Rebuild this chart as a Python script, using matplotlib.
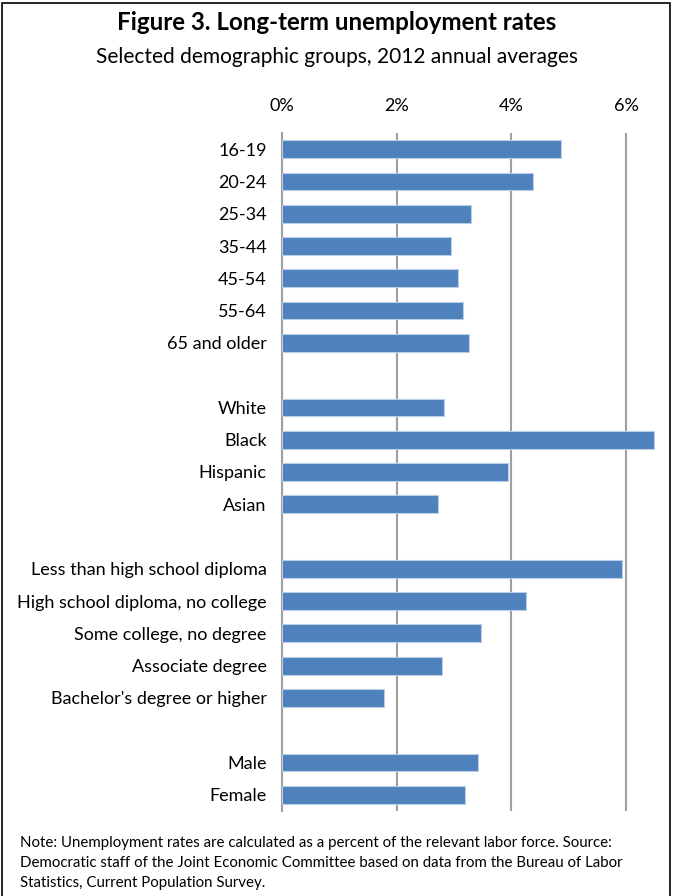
import matplotlib.pyplot as plt
from matplotlib.patches import Rectangle

# groups separated by blank rows (empty label, no bar)
labels = ["16-19", "20-24", "25-34", "35-44", "45-54", "55-64", "65 and older", "",
          "White", "Black", "Hispanic", "Asian", "",
          "Less than high school diploma", "High school diploma, no college",
          "Some college, no degree", "Associate degree", "Bachelor's degree or higher", "",
          "Male", "Female"]
rates = [4.87, 4.38, 3.30, 2.94, 3.06, 3.15, 3.26, None,
         2.82, 6.49, 3.94, 2.72, None,
         5.92, 4.26, 3.47, 2.79, 1.78, None,
         3.42, 3.19]
ticks = [0, 2, 4, 6]
tick_labels = ["0%", "2%", "4%", "6%"]

plt.rcParams['font.family'] = ['Lato', 'DejaVu Sans']

fig = plt.figure(figsize=(6.73, 8.96), dpi=100)
ax = fig.add_axes([0.419, 0.095, 0.554, 0.7565])

ys = list(range(len(labels)))
for y, r in zip(ys, rates):
    if r is not None:
        ax.barh(y, r, height=0.55, color="#4F81BD", edgecolor="#B9CDE5", linewidth=0.8, zorder=3)

ax.set_ylim(len(labels) - 0.5, -0.5)
ax.set_xlim(0, 6.5)
ax.set_yticks(ys)
ax.set_yticklabels(labels, fontsize=13)
ax.set_xticks(ticks)
ax.set_xticklabels(tick_labels, fontsize=13)
ax.xaxis.tick_top()
ax.tick_params(axis="x", length=0, pad=14)
ax.tick_params(axis="y", length=0, pad=11)
ax.grid(axis="x", color="#A0A0A0", linewidth=1.5, zorder=0)
for s in ["top", "right", "bottom"]:
    ax.spines[s].set_visible(False)
ax.spines["left"].set_color("#A0A0A0")
ax.spines["left"].set_linewidth(1.5)

fig.text(0.5, 0.975, "Figure 3. Long-term unemployment rates", ha="center", va="center",
         fontsize=17.4, fontweight="bold")
fig.text(0.5, 0.936, "Selected demographic groups, 2012 annual averages", ha="center", va="center",
         fontsize=15)
fig.text(0.03, 0.067, "Note: Unemployment rates are calculated as a percent of the relevant labor force. Source:\n"
         "Democratic staff of the Joint Economic Committee based on data from the Bureau of Labor\n"
         "Statistics, Current Population Survey.", ha="left", va="top", fontsize=10.8, linespacing=1.55)

fig.patches.append(Rectangle((0.003, -0.01), 0.993, 1.007, transform=fig.transFigure,
                             fill=False, edgecolor="black", linewidth=1.2))

fig.savefig("out.png", dpi=100)
